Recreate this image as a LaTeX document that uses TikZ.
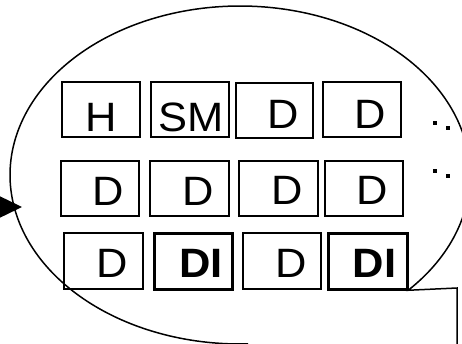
\documentclass[tikz,border=0pt]{standalone}
\usepackage{fontspec}
\setmainfont{Liberation Sans}
\usetikzlibrary{arrows.meta}
\newcommand\cellbox[6]{\node[#6, minimum width={(#4-#2)*1pt}, minimum height={(#5-#3)*1pt}] (#1) at ({(#2+#4)/2},{(#3+#5)/2}) {};}
\newcommand\celltext[5]{\node[lbl] (#1) at (#2,#3) {\scalebox{1.06}[1]{#5#4}};}
\begin{document}
\begin{tikzpicture}[x=1pt,y=-1pt,
  box/.style={draw, line width=1.2pt, inner sep=0pt, outer sep=0pt},
  thickbox/.style={box, line width=3pt},
  lbl/.style={anchor=base, inner sep=0pt, font=\fontsize{41}{41}\selectfont},
  outline/.style={line width=1.5pt},
  dotmark/.style={fill, inner sep=0pt, minimum size=4pt}]
\useasboundingbox (0,0) rectangle (462,343);
\clip (0,0) rectangle (462,343);
% callout outline
\coordinate (corner) at (457,288);
\coordinate (tailend) at (457,352);
\draw[outline] plot[domain=-272:43, samples=240] ({240+230*cos(\x)},{175+169*sin(\x)}) -- (corner) -- (tailend);
% incoming arrow
\coordinate (src) at (-20,207);
\coordinate (tip) at (22,207);
\draw[line width=1.5pt, -{Triangle[length=22pt,width=21pt]}] (src) -- (tip);
% row 1
\cellbox{b11}{62}{82}{140}{137}{box}
\cellbox{b12}{151}{82}{229}{137}{box}
\cellbox{b13}{236}{83}{313}{138}{box}
\cellbox{b14}{323}{82}{401}{137}{box}
% row 2
\cellbox{b21}{61}{161}{139}{216}{box}
\cellbox{b22}{150}{161}{229}{216}{box}
\cellbox{b23}{239}{161}{318}{216}{box}
\cellbox{b24}{325}{161}{403}{216}{box}
% row 3
\cellbox{b31}{64}{233}{143}{289}{box}
\cellbox{b32}{154}{233}{232}{289}{thickbox}
\cellbox{b33}{243}{233}{321}{289}{box}
\cellbox{b34}{328}{233}{407}{289}{thickbox}
% labels
\celltext{t11}{100.8}{131}{H}{}
\celltext{t12}{190.8}{131}{SM}{}
\celltext{t13}{283.3}{128}{D}{}
\celltext{t14}{370.5}{128}{D}{}
\celltext{t21}{108.3}{205}{D}{}
\celltext{t22}{197.7}{205}{D}{}
\celltext{t23}{286.7}{204}{D}{}
\celltext{t24}{372.3}{204}{D}{}
\celltext{t31}{111.7}{277}{D}{}
\celltext{t32}{200.8}{277}{DI}{\bfseries}
\celltext{t33}{291}{277}{D}{}
\celltext{t34}{374.7}{277}{DI}{\bfseries}
% dots
\node[dotmark] (d11) at (435,123) {};
\node[dotmark] (d12) at (447.7,127.7) {};
\node[dotmark] (d21) at (435,171) {};
\node[dotmark] (d22) at (447.7,175.7) {};
\end{tikzpicture}
\end{document}
